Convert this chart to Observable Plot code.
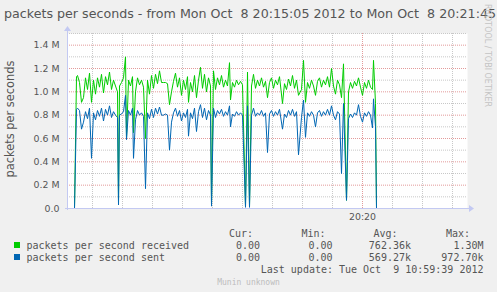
<!DOCTYPE html>
<html>
<head>
<meta charset="utf-8">
<script src="https://cdn.jsdelivr.net/npm/d3@7"></script>
<script src="https://cdn.jsdelivr.net/npm/@observablehq/plot@0.6"></script>
<style>
  html, body { margin: 0; padding: 0; background: #F0F0F0; }
  #chart { width: 497px; height: 292px; }
</style>
</head>
<body>
<div id="chart"></div>
<script>
// seconds after Mon Oct 8 20:15:05 2012
const seconds = [0,7,9,10,12,14,16,18,20,22,24,26,28,30,32,34,36,38,40,42,44,46,48,50,51,52,54,56,58,59,61,63,65,66,68,70,72,74,76,78,80,82,84,86,88,90,92,94,96,98,100,102,104,106,108,110,112,114,116,118,120,121,123,125,127,129,131,133,135,137,139,141,143,144,146,148,150,152,154,156,158,160,162,163,165,167,169,171,173,175,178,180,182,184,186,188,190,192,194,196,198,200,202,204,206,208,210,212,215,217,219,221,223,225,227,229,231,234,236,238,240,242,244,246,248,250,252,254,256,258,260,262,264,266,268,270,272,274,276,279,281,283,285,287,289,291,293,295,297,299,301,303,305,306,308,309,400];
// packets per second received (millions)
const received = [0,0,1.13,1.14,1.08,0.91,0.95,1.12,1.02,1.16,0.91,1.10,0.98,1.12,1.04,1.15,0.99,1.13,1.06,1.17,1.02,1.10,1.05,1.00,0.05,1.05,1.08,1.12,1.30,0.60,1.10,1.05,1.13,0.65,1.00,1.12,1.06,1.10,1.04,0.60,1.10,0.98,1.14,1.03,1.15,1.07,1.18,1.08,1.08,1.08,1.07,0.89,1.00,1.09,1.16,1.04,1.12,0.97,1.10,1.02,1.13,0.91,1.08,1.00,1.14,0.95,1.10,1.21,1.03,1.15,1.00,1.12,1.05,0.03,1.18,1.02,1.12,1.06,1.14,1.04,1.10,1.05,1.25,0.93,1.08,1.04,1.10,1.06,1.09,1.06,0.02,1.17,0.02,1.05,1.15,1.03,1.10,1.05,1.12,1.04,1.09,0.95,1.08,1.12,1.03,1.10,1.06,1.13,0.90,1.07,1.02,1.11,1.05,1.14,1.03,1.10,0.97,1.02,1.27,0.91,1.08,1.03,1.10,1.05,0.97,1.09,1.12,1.04,1.10,1.06,1.13,1.04,1.20,1.05,0.98,1.10,1.06,0.95,1.24,0.07,1.00,1.08,1.03,1.09,1.05,1.12,1.04,0.97,1.08,1.03,1.10,1.04,1.02,1.27,0.90,0,0];
// packets per second sent (millions)
const sent = [0,0,0.85,0.86,0.84,0.68,0.74,0.83,0.77,0.86,0.43,0.82,0.76,0.84,0.79,0.86,0.75,0.85,0.80,0.88,0.78,0.83,0.80,0.78,0.03,0.80,0.81,0.83,0.97,0.59,0.84,0.80,0.86,0.43,0.76,0.84,0.80,0.82,0.79,0.17,0.82,0.77,0.85,0.78,0.86,0.81,0.87,0.80,0.80,0.81,0.80,0.50,0.74,0.82,0.86,0.79,0.84,0.75,0.82,0.78,0.85,0.62,0.82,0.77,0.86,0.66,0.83,0.89,0.78,0.86,0.76,0.84,0.80,0.02,0.86,0.78,0.84,0.81,0.85,0.79,0.83,0.80,0.88,0.70,0.81,0.79,0.83,0.80,0.82,0.80,0.01,0.88,0.01,0.80,0.86,0.79,0.82,0.80,0.84,0.79,0.82,0.48,0.81,0.84,0.79,0.83,0.80,0.85,0.68,0.81,0.78,0.84,0.80,0.85,0.79,0.83,0.46,0.78,0.93,0.61,0.82,0.79,0.83,0.80,0.70,0.82,0.84,0.79,0.83,0.80,0.85,0.80,0.88,0.80,0.76,0.83,0.81,0.30,0.90,0.07,0.77,0.81,0.78,0.82,0.80,0.89,0.79,0.74,0.82,0.79,0.83,0.80,0.69,0.94,0.70,0,0];

const yMajor = [0.2,0.4,0.6,0.8,1.0,1.2,1.4];
const yMinor = [0.1,0.3,0.5,0.7,0.9,1.1,1.3,1.5];
const yTicks = [0,0.2,0.4,0.6,0.8,1.0,1.2,1.4];
const xMinorSec = [25,55,85,115,145,175,205,235,265,325,355,385]; // every 30 s
const xMajorSec = [295]; // 20:20
const legendNames = ["packets per second received","packets per second sent"];
const legendColors = ["#00CC00","#0066B3"];
const legendCur = ["0.00","0.00"];
const legendMin = ["0.00","0.00"];
const legendAvg = ["762.36k","569.27k"];
const legendMax = ["1.30M","972.70k"];
const titleText = "packets per seconds - from Mon Oct  8 20:15:05 2012 to Mon Oct  8 20:21:45";
const lastUpdate = "Last update: Tue Oct  9 10:59:39 2012";

const t0 = Date.UTC(2012, 9, 8, 20, 15, 5);
const toDate = s => new Date(t0 + s * 1000);
const data = seconds.map((s, i) => ({time: toDate(s), received: received[i], sent: sent[i]}));

const gridMinor = "#c8c8c8";
const gridMajor = "#e39a9a";
const axisColor = "#c3c9f2";
const fontColor = "#555555";

const chart = Plot.plot({
  width: 497,
  height: 292,
  marginLeft: 67,
  marginRight: 30,
  marginTop: 33,
  marginBottom: 84,
  style: {background: "#F0F0F0", fontFamily: "DejaVu Sans", fontSize: "9.4px", color: fontColor, overflow: "visible"},
  x: {type: "utc", domain: [toDate(0), toDate(400)]},
  y: {domain: [0, 1.5]},
  marks: [
    Plot.frame({fill: "white", stroke: null}),
    Plot.ruleY(yMinor, {stroke: gridMinor, strokeDasharray: "1,1", strokeWidth: 1}),
    Plot.ruleX(xMinorSec.map(toDate), {stroke: gridMinor, strokeDasharray: "1,1", strokeWidth: 1}),
    Plot.ruleY(yMajor, {stroke: gridMajor, strokeDasharray: "1,1", strokeWidth: 1}),
    Plot.ruleX(xMajorSec.map(toDate), {stroke: gridMajor, strokeDasharray: "1,1", strokeWidth: 1}),
    Plot.line(data, {x: "time", y: "received", stroke: legendColors[0], strokeWidth: 1}),
    Plot.line(data, {x: "time", y: "sent", stroke: legendColors[1], strokeWidth: 1}),
    Plot.axisY(yTicks, {anchor: "left", tickSize: 0, tickPadding: 8, fill: fontColor,
      tickFormat: d => d === 0 ? "0.0" : d.toFixed(1) + " M", label: null}),
    Plot.axisX(xMajorSec.map(toDate), {anchor: "bottom", tickSize: 0, tickPadding: 5, fill: fontColor,
      tickFormat: d3.utcFormat("%H:%M"), label: null})
  ]
});

document.getElementById("chart").appendChild(chart);

const svg = d3.select(chart);
const xs = chart.scale("x");
const ys = chart.scale("y");
const xL = xs.range[0], xR = xs.range[1];
const yB = ys.range[0], yT = ys.range[1];

// axis lines with arrows
svg.append("line").attr("x1", xL - 2).attr("x2", xR + 4).attr("y1", yB + 0.5).attr("y2", yB + 0.5)
  .attr("stroke", axisColor).attr("stroke-width", 1);
svg.append("path").attr("d", `M${xR + 2},${yB - 3}L${xR + 7},${yB + 0.5}L${xR + 2},${yB + 4}Z`).attr("fill", axisColor);
svg.append("line").attr("x1", xL + 0.5).attr("x2", xL + 0.5).attr("y1", yB + 2).attr("y2", yT - 4)
  .attr("stroke", axisColor).attr("stroke-width", 1);
svg.append("path").attr("d", `M${xL - 3},${yT - 2}L${xL + 0.5},${yT - 7}L${xL + 4},${yT - 2}Z`).attr("fill", axisColor);

// title
svg.append("text").attr("x", 4).attr("y", 17.7).attr("fill", fontColor)
  .attr("text-anchor", "start")
  .attr("font-family", "DejaVu Sans").attr("font-size", "12.3px")
  .attr("textLength", 492).attr("lengthAdjust", "spacingAndGlyphs")
  .style("white-space", "pre").text(titleText);

// y axis title
svg.append("text").attr("transform", "translate(13.5,119) rotate(-90)")
  .attr("text-anchor", "middle").attr("fill", fontColor)
  .attr("font-family", "DejaVu Sans").attr("font-size", "11.4px")
  .text("packets per seconds");

// watermark
svg.append("text").attr("transform", "translate(485,107) rotate(90)")
  .attr("text-anchor", "end").attr("fill", "#c4c4c4")
  .attr("font-family", "DejaVu Sans").attr("font-size", "8px")
  .text("RRDTOOL / TOBI OETIKER");

// legend
const mono = "DejaVu Sans Mono";
const lg = svg.append("g").attr("font-family", mono).attr("font-size", "10px").attr("fill", fontColor)
  .attr("text-anchor", "start").style("white-space", "pre");
const headers = [["Cur:", 253], ["Min:", 325.5], ["Avg:", 397.5], ["Max:", 470]];
headers.forEach(([h, x]) => lg.append("text").attr("x", x).attr("y", 237).attr("text-anchor", "end").text(h));
const colEnds = [260, 332.5, 411, 483.5];
[0, 1].forEach(i => {
  const yb = 249 + i * 12;
  lg.append("rect").attr("x", 14).attr("y", yb - 7).attr("width", 6).attr("height", 6).attr("fill", legendColors[i]);
  lg.append("text").attr("x", 26.5).attr("y", yb).attr("text-anchor", "start").text(legendNames[i]);
  [legendCur[i], legendMin[i], legendAvg[i], legendMax[i]].forEach((v, j) =>
    lg.append("text").attr("x", colEnds[j]).attr("y", yb).attr("text-anchor", "end").text(v));
});
lg.append("text").attr("x", 483.5).attr("y", 273).attr("text-anchor", "end").text(lastUpdate);
svg.append("text").attr("x", 248.5).attr("y", 284.5).attr("text-anchor", "middle")
  .attr("font-family", mono).attr("font-size", "8px").attr("fill", "#bdbdbd").text("Munin unknown");
</script>
</body>
</html>
